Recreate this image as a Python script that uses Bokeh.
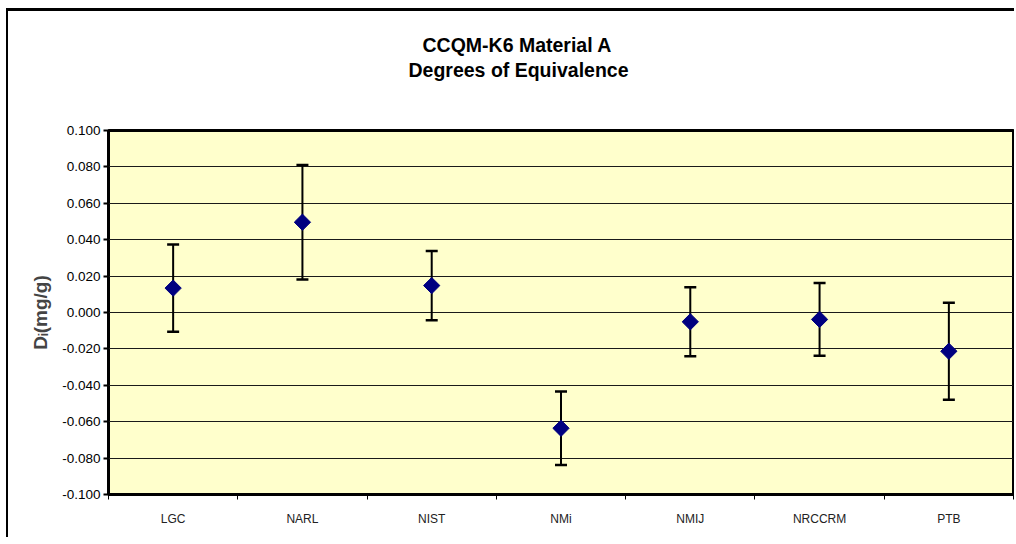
from bokeh.plotting import figure
from bokeh.models import (ColumnDataSource, Whisker, TeeHead, FixedTicker, Range1d,
                          NumeralTickFormatter, Title, Column)
from bokeh.embed import file_html
from bokeh.resources import INLINE
import math

# ---- data ----
labs = ["LGC", "NARL", "NIST", "NMi", "NMIJ", "NRCCRM", "PTB"]
di = [0.0134, 0.0496, 0.0148, -0.0636, -0.0051, -0.0038, -0.0213]
U = [0.0240, 0.0314, 0.0190, 0.0202, 0.0190, 0.0200, 0.0266]
yticks = [-0.100, -0.080, -0.060, -0.040, -0.020, 0.000, 0.020, 0.040, 0.060, 0.080, 0.100]
title1 = "CCQM-K6 Material A"
title2 = "Degrees of Equivalence"
ylabel = "D\u1d62(mg/g)"

xpos = [i + 0.5 for i in range(len(labs))]
src = ColumnDataSource(dict(
    x=xpos, y=di,
    up=[d + u for d, u in zip(di, U)],
    lo=[d - u for d, u in zip(di, U)],
))

FONT = "Liberation Sans"

p = figure(width=1006, height=526, output_backend="svg", toolbar_location=None,
           x_range=Range1d(0, len(labs)), y_range=Range1d(yticks[0], yticks[-1]),
           min_border_left=100, min_border_right=1, min_border_top=119, min_border_bottom=43)

p.background_fill_color = "#FFFFCC"
p.border_fill_color = "white"
p.outline_line_color = "black"
p.outline_line_width = 3

# grid
p.xgrid.grid_line_color = None
p.ygrid.ticker = FixedTicker(ticks=yticks)
p.ygrid.grid_line_color = "#1a1a1a"
p.ygrid.grid_line_width = 1

# y axis
p.yaxis.ticker = FixedTicker(ticks=yticks)
p.yaxis.formatter = NumeralTickFormatter(format="0.000")
p.yaxis.major_label_text_font = FONT
p.yaxis.major_label_text_font_size = "13.5px"
p.yaxis.major_label_text_color = "black"
p.yaxis.major_tick_out = 5
p.yaxis.major_tick_in = 0
p.yaxis.major_tick_line_width = 2
p.yaxis.minor_tick_line_color = None
p.yaxis.axis_line_color = None
p.yaxis.major_label_standoff = 3
p.yaxis.axis_label = ylabel
p.yaxis.axis_label_text_font = FONT
p.yaxis.axis_label_text_font_style = "bold"
p.yaxis.axis_label_text_font_size = "19px"
p.yaxis.axis_label_standoff = 8

# x axis: labels at centres, ticks at category boundaries
p.xaxis.ticker = FixedTicker(ticks=xpos, minor_ticks=list(range(len(labs) + 1)))
p.xaxis.major_label_overrides = {x: l for x, l in zip(xpos, labs)}
p.xaxis.major_tick_out = 0
p.xaxis.major_tick_in = 0
p.xaxis.major_tick_line_color = None
p.xaxis.minor_tick_out = 5
p.xaxis.minor_tick_in = 0
p.xaxis.minor_tick_line_color = "black"
p.xaxis.axis_line_color = None
p.xaxis.major_label_text_font = FONT
p.xaxis.major_label_text_font_size = "12px"
p.xaxis.major_label_text_color = "#222222"
p.xaxis.major_label_standoff = 12

# error bars
w = Whisker(base="x", upper="up", lower="lo", source=src, dimension="height",
            line_color="black", line_width=2,
            upper_head=TeeHead(size=12, line_color="black", line_width=2.5),
            lower_head=TeeHead(size=12, line_color="black", line_width=2.5))
p.add_layout(w)

# markers
p.scatter("x", "y", source=src, marker="square", angle=math.pi / 4, size=11.5,
          fill_color="#000080", line_color="#000080")

# titles (a blank spacer title keeps the two lines up near the top)
spacer = Title(text=" ", standoff=46, text_font_size="1px")
t2 = Title(text=title2, align="left", offset=300, standoff=2,
           text_font=FONT, text_font_style="bold", text_font_size="19.5px", text_color="black")
t1 = Title(text=title1, align="left", offset=314, standoff=0,
           text_font=FONT, text_font_style="bold", text_font_size="19.5px", text_color="black")
p.add_layout(spacer, "above")
p.add_layout(t2, "above")
p.add_layout(t1, "above")

page = Column(children=[p], styles={"margin-left": "6px", "margin-top": "8px",
                                    "border-left": "2px solid #000",
                                    "border-top": "3px solid #000",
                                    "border-right": "0px none",
                                    "border-bottom": "0px none"})

open("out.html", "w").write(file_html(page, INLINE))
